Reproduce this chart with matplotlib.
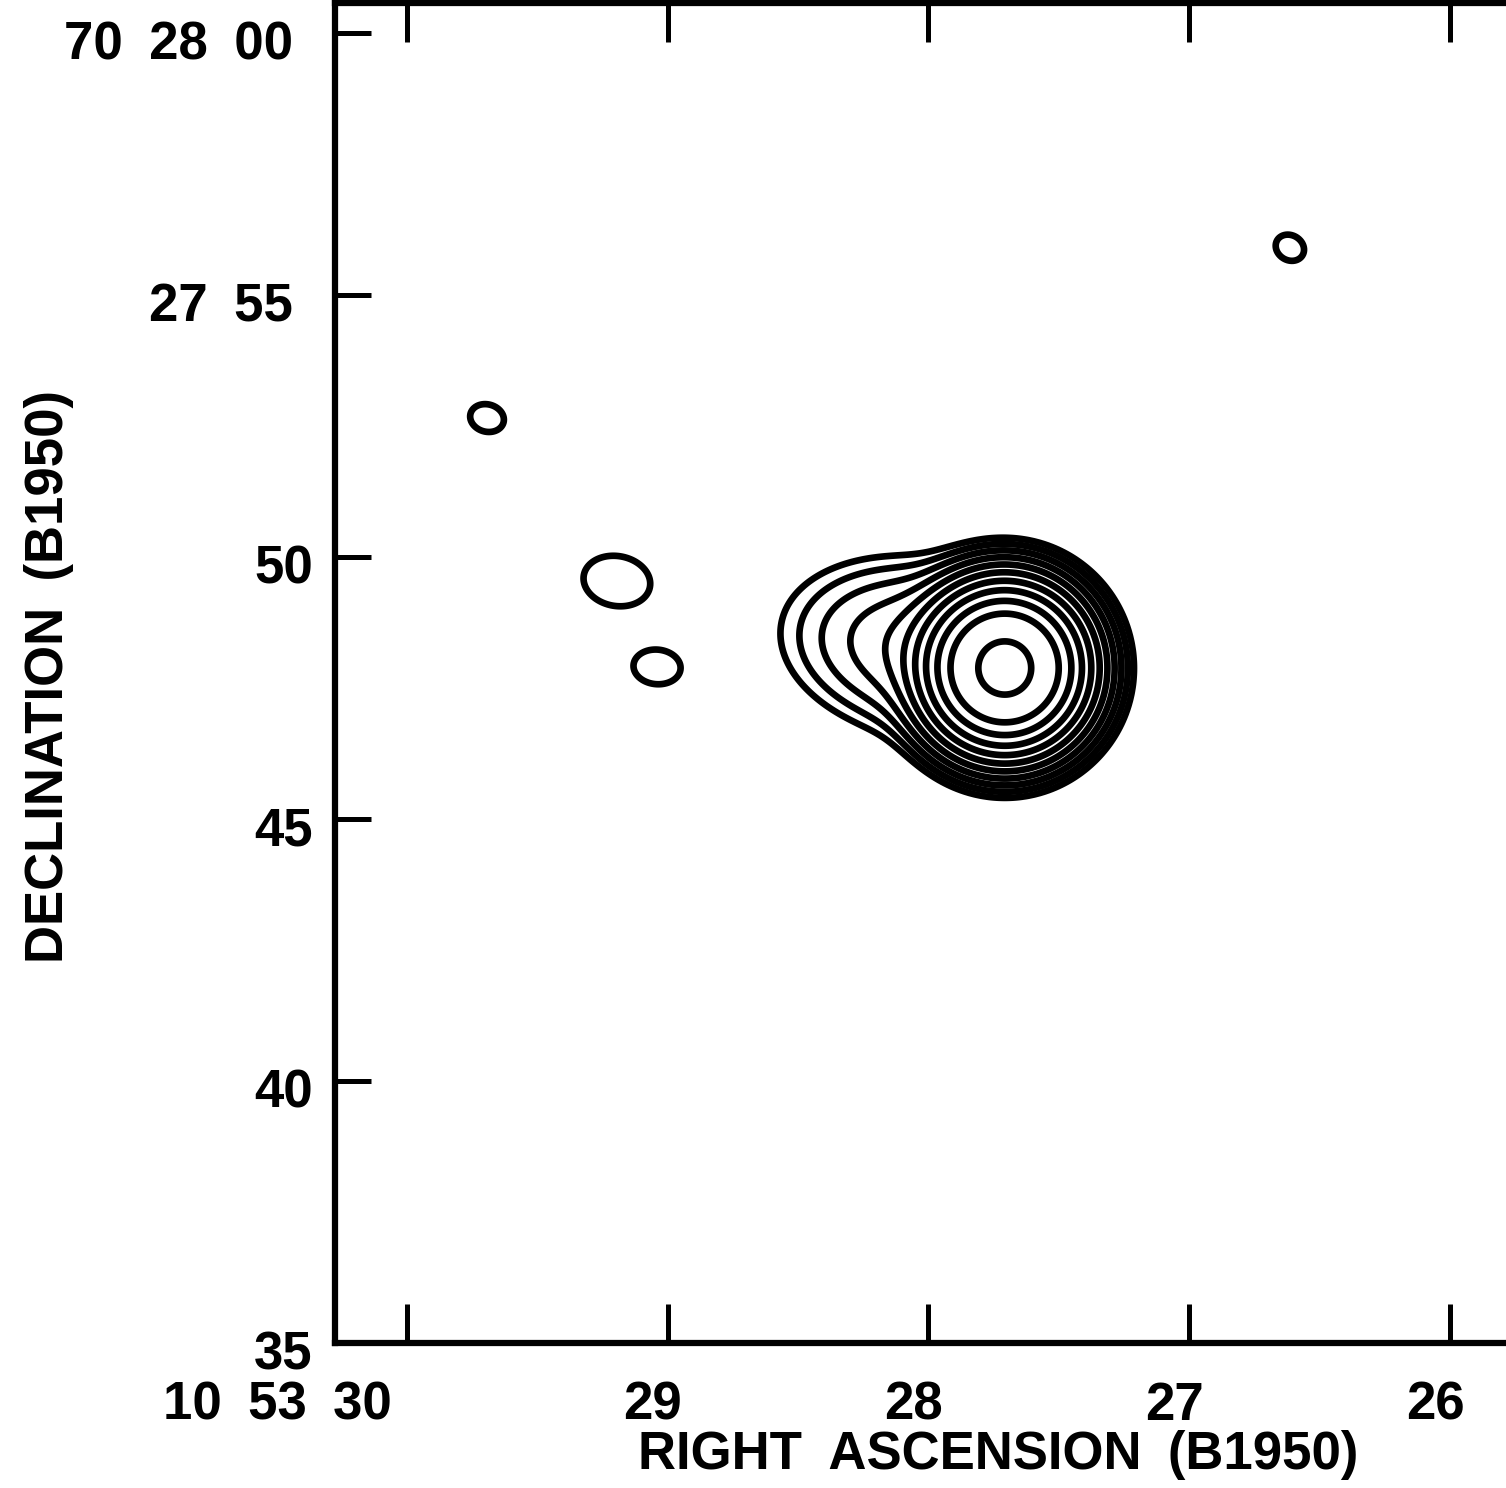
import numpy as np
import matplotlib.pyplot as plt
from matplotlib.transforms import ScaledTranslation

# gaussian components
# RA in seconds past 10h53m, Dec in arcsec past 70d27m (B1950)
comp_ra = [27.707, 28.013, 29.693, 29.195, 29.041, 26.614]
comp_dec = [47.88, 48.24, 52.65, 49.54, 47.90, 55.90]
comp_peak = [1916, 17, 1.9, 1.9, 1.9, 1.9]
comp_major = [0.637, 1.18, 0.29, 0.57, 0.40, 0.25]   # sigma, arcsec
comp_minor = [0.637, 0.73, 0.23, 0.42, 0.29, 0.21]
comp_angle = [0, -10, -15, -10, -5, -30]             # deg on the plot

contour_levels = [1, 2, 4, 8, 16, 32, 64, 128, 256, 512, 1400]

x_ticks = [30, 29, 28, 27, 26]
x_ticklabels = ["10\u200253\u200230", "29", "28", "27", "26"]
y_ticks = [35, 40, 45, 50, 55, 60]
y_ticklabels = ["35", "40", "45", "50", "27\u200255", "70\u200228\u200200"]

plt.rcParams["font.family"] = ["Liberation Sans", "DejaVu Sans"]
plt.rcParams["font.weight"] = "bold"

# build the brightness map
ra_sec_to_arcsec = 15 * np.cos(np.radians(70.46))
ra = np.linspace(25.4, 30.4, 900)
dec = np.linspace(34.5, 61.0, 1000)
RA, DEC = np.meshgrid(ra, dec)
Z = np.zeros_like(RA)
for i in range(len(comp_ra)):
    u = (comp_ra[i] - RA) * ra_sec_to_arcsec
    v = DEC - comp_dec[i]
    t = np.radians(comp_angle[i])
    a = u * np.cos(t) + v * np.sin(t)
    b = -u * np.sin(t) + v * np.cos(t)
    Z += comp_peak[i] * np.exp(-0.5 * ((a / comp_major[i]) ** 2 + (b / comp_minor[i]) ** 2))

fig = plt.figure(figsize=(15.06, 14.88), dpi=100)
ax = fig.add_axes([335 / 1506, 1 - 1343 / 1488, (1560 - 335) / 1506, (1343 - 3) / 1488])

ax.contour(RA, DEC, Z, levels=contour_levels, colors="black", linewidths=4.8)

ax.set_xlim(30.276, 25.578)
ax.set_ylim(35, 60.57)

ax.set_xticks(x_ticks)
ax.set_xticklabels(x_ticklabels)
ax.set_yticks(y_ticks)
ax.set_yticklabels(y_ticklabels)

ax.tick_params(axis="x", direction="in", length=28, width=3.6, top=True,
               labelsize=38, pad=27)
ax.tick_params(axis="y", direction="in", length=26, width=3.6, right=True,
               labelsize=38, pad=16)

def shift(lab, dx, dy):
    lab.set_transform(lab.get_transform() + ScaledTranslation(dx / 100, dy / 100, fig.dpi_scale_trans))

for lab in ax.get_yticklabels():
    dx = -20 if len(lab.get_text()) > 2 else 0
    shift(lab, dx, -7)
for lab in ax.get_xticklabels():
    shift(lab, -15, 0)
first = ax.get_xticklabels()[0]
first.set_ha("right")

for s in ax.spines.values():
    s.set_linewidth(4.5)

ax.set_xlabel("RIGHT\u2002ASCENSION\u2002(B1950)", fontsize=38, fontweight="bold")
ax.xaxis.set_label_coords(998 / 1506, 1 - 1430 / 1488, transform=fig.transFigure)
ax.set_ylabel("DECLINATION\u2002(B1950)", fontsize=38, fontweight="bold")
ax.yaxis.set_label_coords(74 / 1506, 1 - 676 / 1488, transform=fig.transFigure)

fig.savefig("out.png", dpi=100)
